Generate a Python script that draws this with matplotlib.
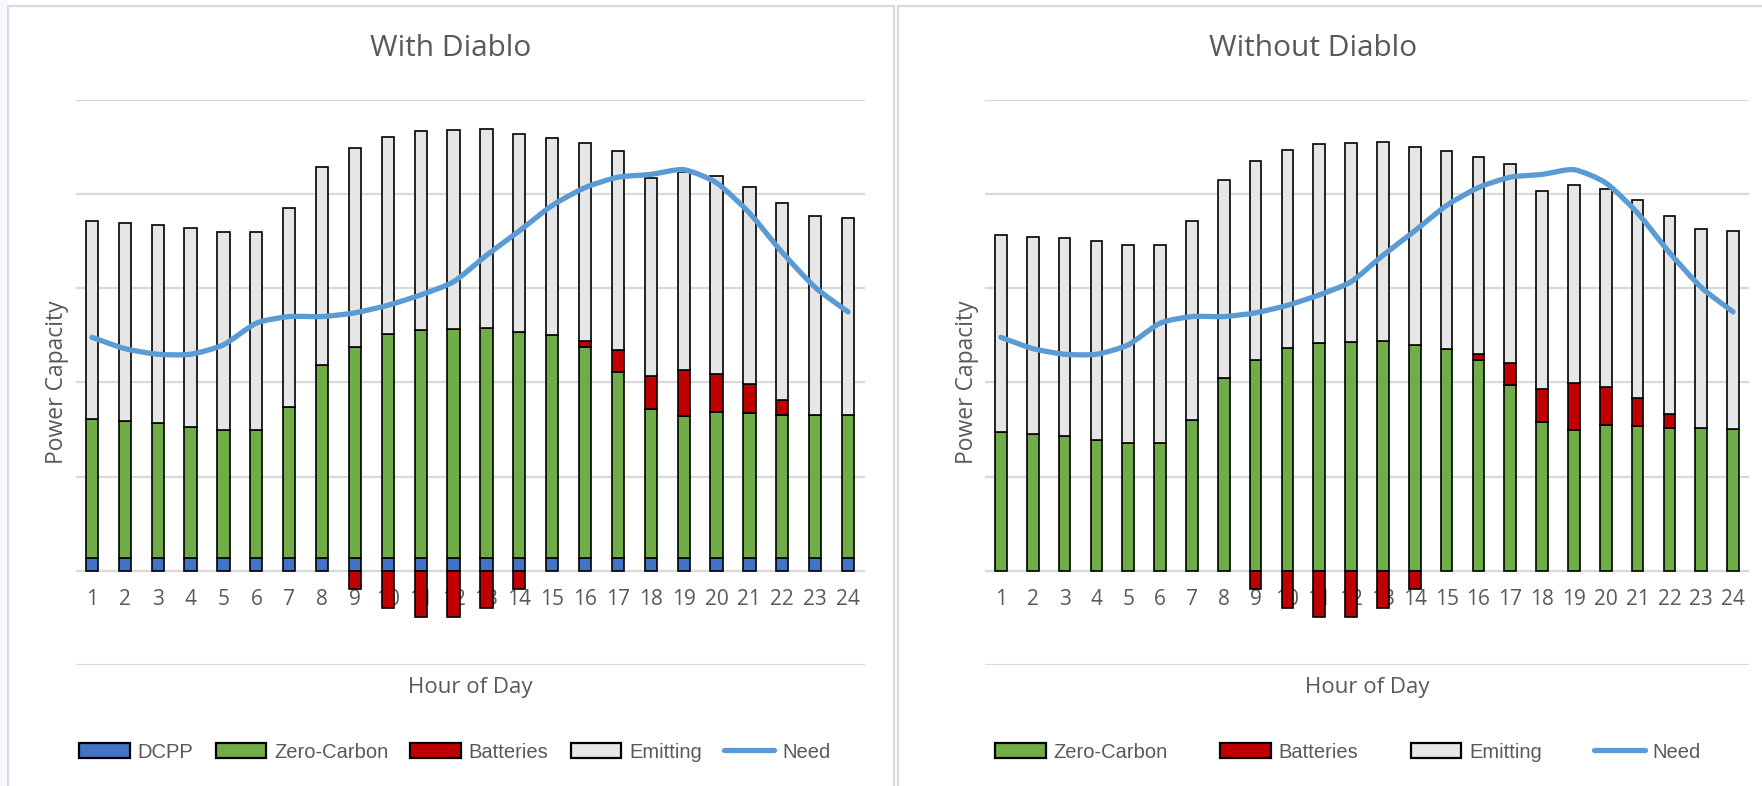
import matplotlib
matplotlib.use('Agg')
import matplotlib.pyplot as plt
import numpy as np
from matplotlib.path import Path
from matplotlib.patches import PathPatch, Patch, Rectangle
from matplotlib.lines import Line2D

# Data (in gridline units)
hours = ['1', '2', '3', '4', '5', '6', '7', '8', '9', '10', '11', '12',
         '13', '14', '15', '16', '17', '18', '19', '20', '21', '22', '23', '24']
dcpp = [0.14, 0.14, 0.14, 0.14, 0.14, 0.14, 0.14, 0.14, 0.14, 0.14, 0.14, 0.14,
        0.14, 0.14, 0.14, 0.14, 0.14, 0.14, 0.14, 0.14, 0.14, 0.14, 0.14, 0.14]
zero_carbon = [1.47, 1.45, 1.43, 1.39, 1.36, 1.36, 1.60, 2.05, 2.24, 2.37, 2.42, 2.43,
               2.44, 2.40, 2.36, 2.24, 1.97, 1.58, 1.50, 1.55, 1.54, 1.52, 1.52, 1.51]
batteries = [0, 0, 0, 0, 0, 0, 0, 0, -0.19, -0.40, -0.49, -0.49,
             -0.40, -0.19, 0, 0.06, 0.24, 0.35, 0.49, 0.40, 0.30, 0.15, 0, 0]
emitting = [2.10, 2.10, 2.10, 2.11, 2.10, 2.10, 2.11, 2.10, 2.11, 2.10, 2.11, 2.11,
            2.11, 2.10, 2.10, 2.10, 2.11, 2.10, 2.11, 2.10, 2.10, 2.10, 2.11, 2.10]
need = [2.48, 2.36, 2.30, 2.30, 2.40, 2.63, 2.70, 2.70, 2.74, 2.82, 2.93, 3.07,
        3.35, 3.61, 3.88, 4.07, 4.18, 4.21, 4.26, 4.12, 3.80, 3.38, 3.01, 2.75]

BLUE = '#4472C4'
GREEN = '#70AD47'
RED = '#C00000'
GRAY = '#E7E6E6'
LINE = '#5B9BD5'
TXT = '#595959'
GRID = '#D9D9D9'

plt.rcParams['font.family'] = ['Open Sans', 'DejaVu Sans']

W, H = 1762, 786
fig = plt.figure(figsize=(W / 100, H / 100), dpi=100)


def box(x0, y0, x1, y1):
    return [x0 / W, 1 - y1 / H, (x1 - x0) / W, (y1 - y0) / H]


def smooth_path(x, y):
    # excel-like smoothed line: bezier through the data points
    pts = np.column_stack([x, y])
    n = len(pts)
    verts = [pts[0]]
    codes = [Path.MOVETO]
    for i in range(n - 1):
        p0 = pts[max(i - 1, 0)]
        p1 = pts[i]
        p2 = pts[i + 1]
        p3 = pts[min(i + 2, n - 1)]
        verts += [p1 + (p2 - p0) / 9, p2 - (p3 - p1) / 9, p2]
        codes += [Path.CURVE4] * 3
    return Path(verts, codes)


def draw(ax, with_dcpp):
    x = np.arange(len(hours))
    w = 0.37
    kw = dict(edgecolor='black', linewidth=1.2, zorder=2)
    zc = np.array(zero_carbon)
    bt = np.array(batteries)
    em = np.array(emitting)
    base = np.array(dcpp) if with_dcpp else np.zeros(len(x))
    if with_dcpp:
        ax.bar(x, base, w, color=BLUE, **kw)
    ax.bar(x, zc, w, bottom=base, color=GREEN, **kw)
    top = base + zc
    nz = bt != 0
    ax.bar(x[nz], bt[nz], w, bottom=np.where(bt[nz] > 0, top[nz], 0), color=RED, **kw)
    ax.bar(x, em, w, bottom=top + np.clip(bt, 0, None), color=GRAY, **kw)
    ax.add_patch(PathPatch(smooth_path(x, np.array(need)), fill=False, edgecolor=LINE,
                           linewidth=3.8, capstyle='round', joinstyle='round', zorder=3))

    ax.set_xlim(-0.5, len(x) - 0.5)
    ax.set_ylim(-1, 5)
    ax.set_yticks(range(-1, 6))
    ax.tick_params(axis='y', length=0, labelleft=False)
    ax.grid(axis='y', color=GRID, linewidth=1.6)
    ax.set_axisbelow(True)
    for s in ax.spines.values():
        s.set_visible(False)
    ax.spines['bottom'].set_position(('data', 0))
    ax.set_xticks(x, hours)
    ax.tick_params(axis='x', length=0, pad=13, labelsize=15, labelcolor=TXT)

    ax.set_xlabel('Hour of Day', fontsize=16, color=TXT)
    ax.xaxis.set_label_coords(0.5, -0.039)
    ax.xaxis.label.set_va('center')
    ax.set_ylabel('Power Capacity', fontsize=16.5, color=TXT)
    ax.yaxis.set_label_coords(-0.024, 0.5)
    ax.yaxis.label.set_va('center')


# panel frames
fig.add_artist(Rectangle((0, 0), 8 / W, 1, transform=fig.transFigure,
                         facecolor='#F4F7FB', edgecolor='none', zorder=0))
fig.add_artist(Rectangle((8 / W, -0.05), (894 - 8) / W, 1.05 - 6 / H, transform=fig.transFigure,
                         fill=False, edgecolor=GRID, linewidth=1.6))
fig.add_artist(Rectangle((898 / W, -0.05), 0.6, 1.05 - 6 / H, transform=fig.transFigure,
                         fill=False, edgecolor=GRID, linewidth=1.6))

ax1 = fig.add_axes(box(75.5, 100, 864.5, 665))
ax2 = fig.add_axes(box(985, 100, 1749, 665))
draw(ax1, True)
draw(ax2, False)

fig.text(451 / W, 1 - 49 / H, 'With Diablo', ha='center', va='center', fontsize=21.5, color=TXT)
fig.text(1313 / W, 1 - 49 / H, 'Without Diablo', ha='center', va='center', fontsize=21.5, color=TXT)

def patch(c):
    return Patch(facecolor=c, edgecolor='black', linewidth=1.6)

need_h = Line2D([], [], color=LINE, linewidth=3.8, solid_capstyle='round')
leg_font = {'family': ['Liberation Sans', 'DejaVu Sans'], 'size': 14.5}
fig.legend([patch(BLUE), patch(GREEN), patch(RED), patch(GRAY), need_h],
           ['DCPP', 'Zero-Carbon', 'Batteries', 'Emitting', 'Need'],
           loc='center', bbox_to_anchor=(455 / W, 1 - 752 / H), ncol=5, frameon=False,
           prop=leg_font, labelcolor=TXT, handlelength=2.5, handleheight=0.75,
           handletextpad=0.4, columnspacing=1.1)
fig.legend([patch(GREEN), patch(RED), patch(GRAY), need_h],
           ['Zero-Carbon', 'Batteries', 'Emitting', 'Need'],
           loc='center', bbox_to_anchor=(1348 / W, 1 - 752 / H), ncol=4, frameon=False,
           prop=leg_font, labelcolor=TXT, handlelength=2.5, handleheight=0.75,
           handletextpad=0.4, columnspacing=2.6)

fig.savefig('out.png', dpi=100)
